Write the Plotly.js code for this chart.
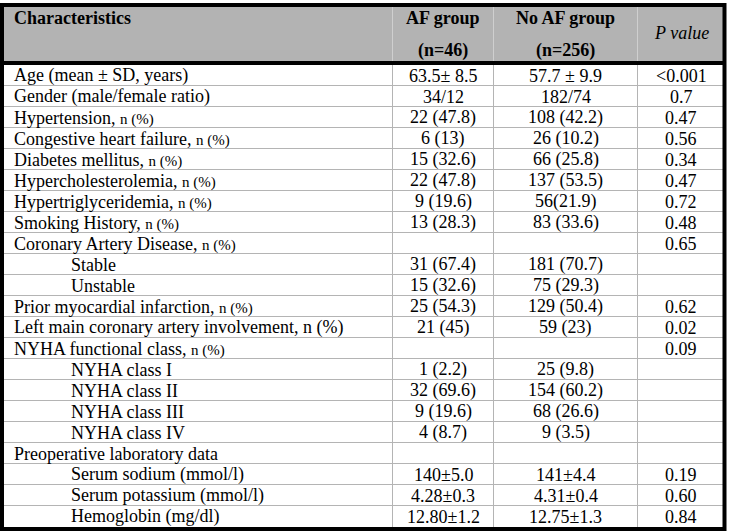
<!DOCTYPE html>
<html>
<head>
<meta charset="utf-8">
<script src="https://cdn.plot.ly/plotly-3.0.1.min.js"></script>
<style>html,body{margin:0;padding:0;background:#fff;}</style>
</head>
<body>
<div id="chart" style="width:729px;height:532px;"></div>
<script>
// ---- data ----
var headerLabels = ["Characteristics", "AF group", "No AF group", "P value"];
var headerCounts = ["", "(n=46)", "(n=256)", ""];
var characteristics = [
  "Age (mean \u00b1 SD, years)",
  "Gender (male/female ratio)",
  "Hypertension,",
  "Congestive heart failure,",
  "Diabetes mellitus,",
  "Hypercholesterolemia,",
  "Hypertriglyceridemia,",
  "Smoking History,",
  "Coronary Artery Disease,",
  "Stable",
  "Unstable",
  "Prior myocardial infarction,",
  "Left main coronary artery involvement, n (%)",
  "NYHA functional class,",
  "NYHA class I",
  "NYHA class II",
  "NYHA class III",
  "NYHA class IV",
  "Preoperative laboratory data",
  "Serum sodium (mmol/l)",
  "Serum potassium (mmol/l)",
  "Hemoglobin (mg/dl)"
];
var unitSuffix = ["", "", "n (%)", "n (%)", "n (%)", "n (%)", "n (%)", "n (%)", "n (%)", "", "",
  "n (%)", "", "n (%)", "", "", "", "", "", "", "", ""];
var subItem = [false, false, false, false, false, false, false, false, false, true, true,
  false, false, false, true, true, true, true, false, true, true, true];
var afGroup = ["63.5\u00b1 8.5", "34/12", "22 (47.8)", "6 (13)", "15 (32.6)", "22 (47.8)", "9 (19.6)",
  "13 (28.3)", "", "31 (67.4)", "15 (32.6)", "25 (54.3)", "21 (45)", "", "1 (2.2)", "32 (69.6)",
  "9 (19.6)", "4 (8.7)", "", "140\u00b15.0", "4.28\u00b10.3", "12.80\u00b11.2"];
var noAfGroup = ["57.7 \u00b1 9.9", "182/74", "108 (42.2)", "26 (10.2)", "66 (25.8)", "137 (53.5)",
  "56(21.9)", "83 (33.6)", "", "181 (70.7)", "75 (29.3)", "129 (50.4)", "59 (23)", "", "25 (9.8)",
  "154 (60.2)", "68 (26.6)", "9 (3.5)", "", "141\u00b14.4", "4.31\u00b10.4", "12.75\u00b11.3"];
var pValues = ["<0.001", "0.7", "0.47", "0.56", "0.34", "0.47", "0.72", "0.48", "0.65", "", "",
  "0.62", "0.02", "0.09", "", "", "", "", "", "0.19", "0.60", "0.84"];

// ---- layout geometry ----
var W = 729, H = 532;
var colEdges = [2, 392.5, 493.5, 637.5, 724.5];
var tableTop = 5, headerBottom = 63, bodyTop = 65, rowH = 21;
var nRows = characteristics.length;
var tableBottom = bodyTop + nRows * rowH + 2;
var FONT = "Liberation Serif, Times New Roman, serif";
var fs = 18, fsSmall = 15;
var gridColor = "#b4b4b4";

function rowCenter(i) { return bodyTop + rowH * i + rowH / 2; }
function colCenter(c) { return (colEdges[c] + colEdges[c + 1]) / 2; }

var shapes = [];
var annotations = [];

// header background
shapes.push({type: "rect", xref: "x", yref: "y", x0: colEdges[0], x1: colEdges[4], y0: tableTop, y1: headerBottom,
  fillcolor: "#b3b3b3", line: {width: 0}, layer: "below"});
// header column separators (light)
for (var c = 1; c < 4; c++) {
  shapes.push({type: "line", xref: "x", yref: "y", x0: colEdges[c], x1: colEdges[c], y0: tableTop, y1: headerBottom,
    line: {color: "#cfcfcf", width: 1}});
}
// row separators
for (var i = 1; i < nRows; i++) {
  var yy = bodyTop + rowH * i - 0.5;
  shapes.push({type: "line", xref: "x", yref: "y", x0: colEdges[0], x1: colEdges[4], y0: yy, y1: yy,
    line: {color: gridColor, width: 1}});
}
// body column separators
for (var c2 = 1; c2 < 4; c2++) {
  shapes.push({type: "line", xref: "x", yref: "y", x0: colEdges[c2], x1: colEdges[c2], y0: headerBottom, y1: tableBottom,
    line: {color: gridColor, width: 1}});
}
// header bottom thick line
shapes.push({type: "line", xref: "x", yref: "y", x0: colEdges[0], x1: colEdges[4], y0: headerBottom, y1: headerBottom,
  line: {color: "#000", width: 4}});
// outer border
shapes.push({type: "rect", xref: "x", yref: "y", x0: colEdges[0], x1: colEdges[4], y0: tableTop, y1: tableBottom,
  line: {color: "#000", width: 4}, fillcolor: "rgba(0,0,0,0)"});

function ann(x, y, text, xanchor, font) {
  annotations.push({xref: "x", yref: "y", x: x, y: y, text: text, showarrow: false,
    xanchor: xanchor, yanchor: "middle", font: font, borderpad: 0});
}
var baseFont = {family: FONT, size: fs, color: "#000"};

// header texts
ann(13, 18, "<b>" + headerLabels[0] + "</b>", "left", baseFont);
ann(colCenter(1), 18, "<b>" + headerLabels[1] + "</b>", "center", baseFont);
ann(colCenter(1), 50, "<b>" + headerCounts[1] + "</b>", "center", baseFont);
ann(colCenter(2), 18, "<b>" + headerLabels[2] + "</b>", "center", baseFont);
ann(colCenter(2), 50, "<b>" + headerCounts[2] + "</b>", "center", baseFont);
ann(colCenter(3), 33, "<i>" + headerLabels[3] + "</i>", "center", baseFont);

// body texts
for (var r = 0; r < nRows; r++) {
  var y = rowCenter(r);
  var label = characteristics[r];
  if (unitSuffix[r]) label += " <span style=\"font-size:" + fsSmall + "px\">" + unitSuffix[r] + "</span>";
  ann(subItem[r] ? 70 : 13, y, label, "left", baseFont);
  if (afGroup[r]) ann(colCenter(1), y, afGroup[r], "center", baseFont);
  if (noAfGroup[r]) ann(colCenter(2), y, noAfGroup[r], "center", baseFont);
  if (pValues[r]) ann(colCenter(3), y, pValues[r], "center", baseFont);
}

var layout = {
  width: W, height: H,
  margin: {l: 0, r: 0, t: 0, b: 0, pad: 0},
  paper_bgcolor: "#ffffff", plot_bgcolor: "#ffffff",
  showlegend: false,
  xaxis: {range: [0, W], visible: false, fixedrange: true},
  yaxis: {range: [H, 0], visible: false, fixedrange: true},
  shapes: shapes,
  annotations: annotations
};
Plotly.newPlot("chart", [{type: "scatter", x: [], y: [], mode: "markers", hoverinfo: "skip"}], layout,
  {staticPlot: true, displayModeBar: false});
</script>
</body>
</html>
